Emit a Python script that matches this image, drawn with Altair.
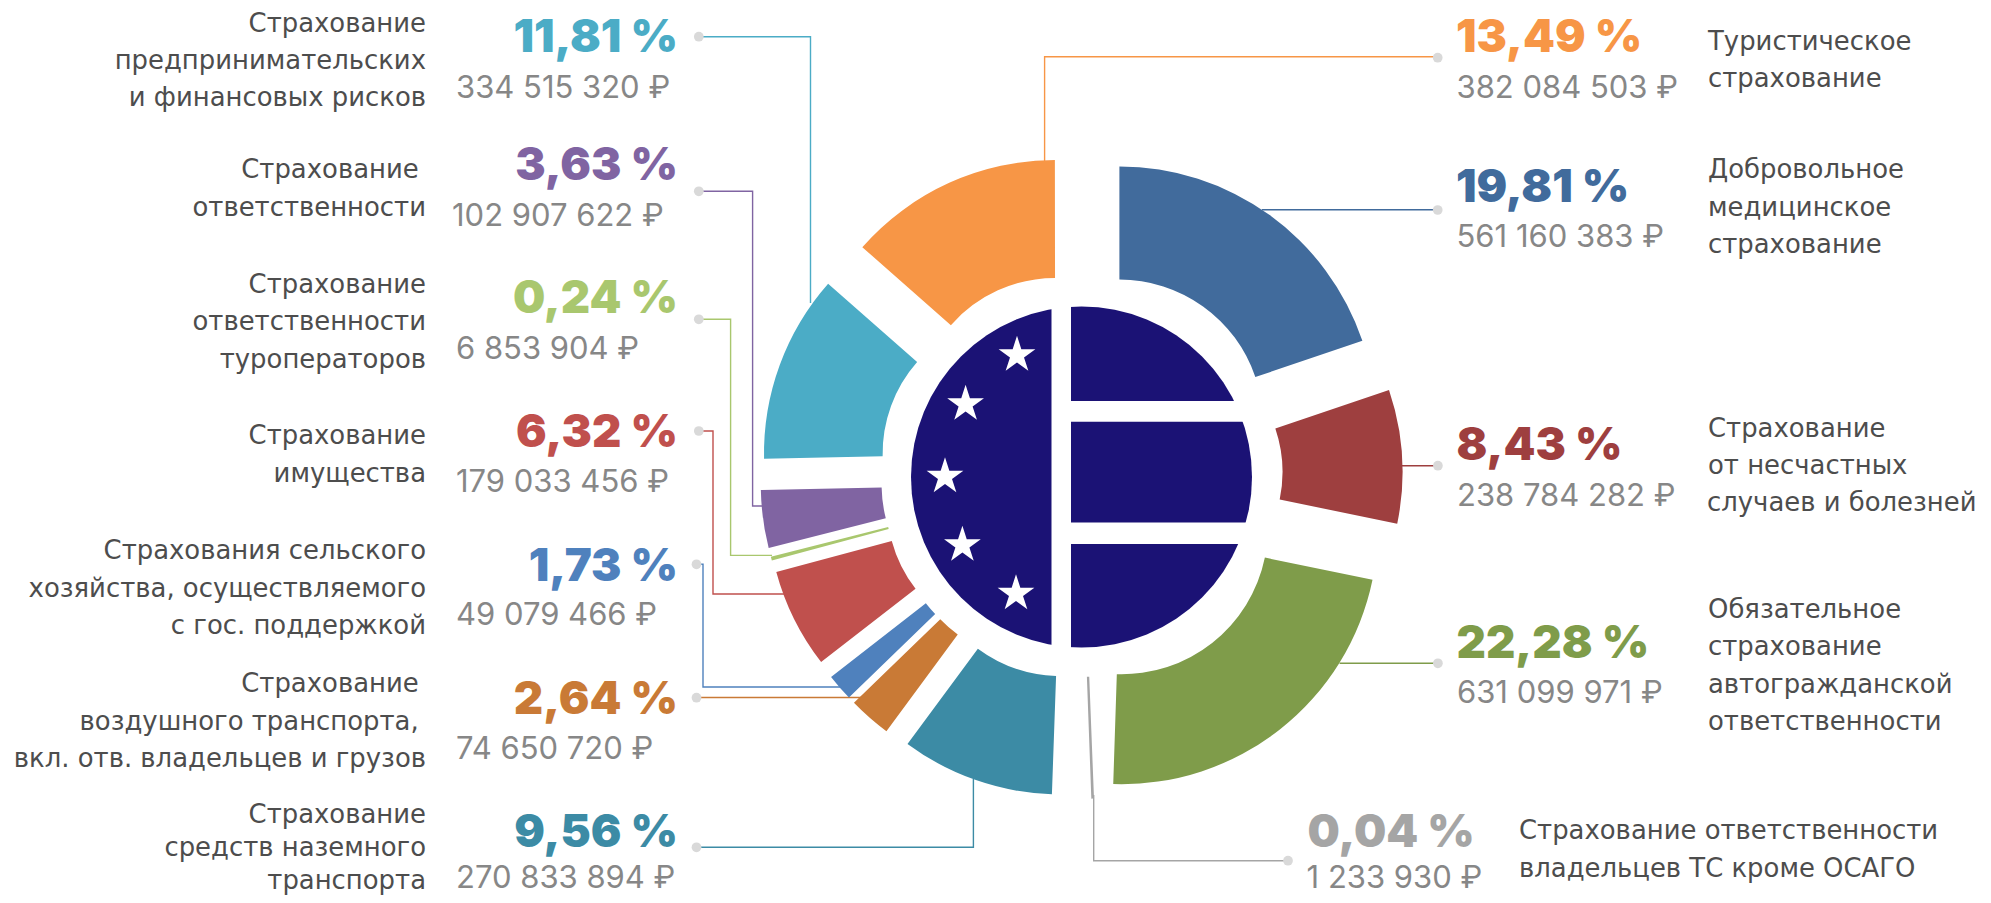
import math
import altair as alt
import pandas as pd

W, H = 1975, 887

# ---------- values ----------
shares = [19.81, 8.43, 22.28, 0.04, 9.56, 2.64, 1.73, 6.32, 0.24, 3.63, 11.81, 13.49]
pct_text = ["19,81 %", "8,43 %", "22,28 %", "0,04 %", "9,56 %", "2,64 %", "1,73 %", "6,32 %", "0,24 %", "3,63 %", "11,81 %", "13,49 %"]
amounts = ["561 160 383 ₽", "238 784 282 ₽", "631 099 971 ₽", "1 233 930 ₽", "270 833 894 ₽", "74 650 720 ₽", "49 079 466 ₽",
           "179 033 456 ₽", "6 853 904 ₽", "102 907 622 ₽", "334 515 320 ₽", "382 084 503 ₽"]
colors = ["#416B9C", "#9E3F3F", "#7F9C4A", "#A5A5A5", "#3C8BA5", "#C97A36", "#4F81BD", "#C0504D", "#A9C76E", "#8064A2", "#4BACC6", "#F79646"]

# ---------- layout of the exploded slices ----------
slice_cx = [1119.4, 1146.5, 1121.6, 1082.6, 1061.0, 1041.0, 1029.3, 1022.5, 1020.0, 1017.8, 1021.0, 1055.2]
slice_cy = [423.0, 472.0, 528.0, 531.8, 536.0, 521.7, 523.0, 505.7, 493.5, 484.8, 453.5, 417.0]
slice_r_in = [143.5, 136.0, 146.3, 146.0, 140.0, 140.2, 131.0, 135.4, 136.0, 136.2, 138.4, 139.0]
slice_r_out = [256.5, 256.0, 256.2, 266.0, 258.5, 260.3, 251.0, 255.0, 257.0, 257.0, 257.0, 257.0]
slice_tilt = [0, 0, 0, -1.14, 0, 0, 0, 0, 0, 0, 0, 0]
slice_sw = [0, 0, 0, 2, 0, 0, 0, 0, 0, 0, 0, 0]

starts, ends, run = [], [], 0.0
for s, t in zip(shares, slice_tilt):
    starts.append(run + t)
    ends.append(run + s + t)
    run += s
slices = pd.DataFrame(dict(start=starts, end=ends, cx=slice_cx, cy=slice_cy, r_in=slice_r_in,
                           r_out=slice_r_out, color=colors, sw=slice_sw))

# ---------- text ----------
left_labels = [
    ("Страхование", 426, 31.7), ("предпринимательских", 426, 69), ("и финансовых рисков", 426, 106),
    ("Страхование", 418.7, 177.7), ("ответственности", 426, 216),
    ("Страхование", 426, 292.7), ("ответственности", 426, 330), ("туроператоров", 426, 367.7),
    ("Страхование", 426, 444.3), ("имущества", 426, 482.3),
    ("Страхования сельского", 426, 559.3), ("хозяйства, осуществляемого", 426, 596.7), ("с гос. поддержкой", 426, 634),
    ("Страхование", 418.7, 692.3), ("воздушного транспорта,", 418.7, 730), ("вкл. отв. владельцев и грузов", 426, 767.3),
    ("Страхование", 426, 823), ("средств наземного", 426, 856), ("транспорта", 426, 888.5),
]
right_labels = [
    ("Туристическое", 1708, 50), ("страхование", 1708, 87.3),
    ("Добровольное", 1708, 178.3), ("медицинское", 1708, 215.7), ("страхование", 1708, 252.7),
    ("Страхование", 1708, 436.7), ("от несчастных", 1708, 474), ("случаев и болезней", 1707, 511.3),
    ("Обязательное", 1708, 617.7), ("страхование", 1708, 655), ("автогражданской", 1708, 692.7), ("ответственности", 1708, 730),
    ("Страхование ответственности", 1519, 839.3), ("владельцев ТС кроме ОСАГО", 1519, 876.7),
]
# index into the value lists, x, baseline
pct_left = [(10, 678, 51.7), (9, 678, 180), (8, 678, 313.3), (7, 678, 446.7), (6, 678, 580.7), (5, 678, 714), (4, 678, 847.3)]
pct_right = [(11, 1456, 52.3), (0, 1456, 201.7), (1, 1456.5, 459.6), (2, 1456.5, 657.7), (3, 1307.5, 847.3)]
amt_pos = [(10, 456, 97.7), (9, 452, 225.7), (8, 456, 359), (7, 456, 492.3), (6, 456, 625.3), (5, 456, 759), (4, 456, 887.5),
           (11, 1456.5, 97.7), (0, 1456.5, 247.3), (1, 1457, 505.7), (2, 1457, 703.3), (3, 1306.6, 887.5)]

# ---------- leaders and dots ----------
leaders = [
    (10, [(703, 36.7), (810.5, 36.7), (810.5, 303)]),
    (9, [(703, 191.3), (752.6, 191.3), (752.6, 506), (765, 506)]),
    (8, [(703, 319.3), (730.6, 319.3), (730.6, 555.4), (772, 555.4)]),
    (7, [(703, 431), (713, 431), (713, 594), (785, 594)]),
    (6, [(699, 564.3), (703, 564.3), (703, 687), (842, 687)]),
    (5, [(700, 697.5), (865, 697.5)]),
    (4, [(700, 847.3), (973.4, 847.3), (973.4, 779)]),
    (11, [(1437, 56.7), (1044.6, 56.7), (1044.6, 162)]),
    (0, [(1437, 209.8), (1261.8, 209.8)]),
    (1, [(1437, 465.7), (1401, 465.7)]),
    (2, [(1437, 663.3), (1339.6, 663.3)]),
    (3, [(1093.7, 795), (1093.7, 860.7), (1288, 860.7)]),
]
dots_x = [698.8, 698.8, 698.8, 698.8, 696.5, 696.5, 696.5, 1437.7, 1437.7, 1437.9, 1437.9, 1288]
dots_y = [36.7, 191.3, 319.3, 431, 564.3, 697.7, 847.3, 57.7, 210, 465.7, 663.3, 860.7]

# ---------- central disc ----------
disc = pd.DataFrame(dict(cx=[1081.5], cy=[477.0], start=[0.0], end=[100.0], r=[170.5]))
bands = pd.DataFrame(dict(x1=[1051.5, 1071, 1071], x2=[1071, 1262, 1262], y1=[290, 401, 522.4], y2=[665, 421.8, 544.1]))
stars = pd.DataFrame(dict(x=[1017, 965.6, 945, 962.4, 1016], y=[355.1, 404.1, 476.6, 545.1, 593.6]))
star_path = "M" + "L".join(
    f"{(1 if i % 2 == 0 else 0.382) * math.sin(i * math.pi / 5):.4f},{-(1 if i % 2 == 0 else 0.382) * math.cos(i * math.pi / 5):.4f}"
    for i in range(10)) + "Z"

X = alt.Scale(domain=[8, 8 + W], range=[0, W], zero=False, nice=False)
Y = alt.Scale(domain=[8, 8 + H], range=[0, H], zero=False, nice=False)
TH = alt.Scale(domain=[0, 100], range=[0, 2 * math.pi])


def xe(f="x"):
    return alt.X(f"{f}:Q", scale=X, axis=None)


def ye(f="y"):
    return alt.Y(f"{f}:Q", scale=Y, axis=None)


leader_rows = []
for k, (idx, pts) in enumerate(leaders):
    for o, (x, y) in enumerate(pts):
        leader_rows.append(dict(k=k, o=o, x=x, y=y, color=colors[idx]))

leader_layer = alt.Chart(pd.DataFrame(leader_rows)).mark_line(strokeWidth=1.4, interpolate="linear").encode(
    x=xe(), y=ye(), detail="k:N", order="o:Q", color=alt.Color("color:N", scale=None))

dot_layer = alt.Chart(pd.DataFrame(dict(x=dots_x, y=dots_y))).mark_point(
    filled=True, size=95, color="#D9D9D9", opacity=1, shape="circle").encode(x=xe(), y=ye())

slice_layer = alt.Chart(slices).mark_arc().encode(
    x=xe("cx"), y=ye("cy"),
    theta=alt.Theta("start:Q", scale=TH, stack=None), theta2=alt.Theta2("end:Q"),
    radius=alt.Radius("r_out:Q", scale=None), radius2=alt.Radius2("r_in:Q"),
    color=alt.Color("color:N", scale=None),
    stroke=alt.Stroke("color:N", scale=None),
    strokeWidth=alt.StrokeWidth("sw:Q", scale=None),
)

disc_layer = alt.Chart(disc).mark_arc(color="#1B1275").encode(
    x=xe("cx"), y=ye("cy"),
    theta=alt.Theta("start:Q", scale=TH, stack=None), theta2=alt.Theta2("end:Q"),
    radius=alt.Radius("r:Q", scale=None),
)

band_layer = alt.Chart(bands).mark_rect(color="white").encode(
    x=xe("x1"), x2="x2:Q", y=ye("y1"), y2="y2:Q")

star_layer = alt.Chart(stars).mark_point(
    shape=star_path, filled=True, color="white", opacity=1, size=1490, strokeWidth=0).encode(x=xe(), y=ye())


def text_layer(rows, align, size, weight, color=None, font="Inter"):
    df = pd.DataFrame(rows)
    kw = dict(align=align, baseline="alphabetic", font=font, fontSize=size, fontWeight=weight)
    if color:
        kw["color"] = color
    enc = dict(x=xe(), y=ye(), text="t:N")
    if not color:
        enc["color"] = alt.Color("color:N", scale=None)
    return alt.Chart(df).mark_text(**kw).encode(**enc)


LABEL_C, AMT_C = "#4D4D4D", "#878787"
LABEL_FONT, LABEL_SIZE = "DejaVu Sans", 25.9
layers = [
    leader_layer, dot_layer, slice_layer, disc_layer, band_layer, star_layer,
    text_layer([dict(t=t, x=x, y=y) for t, x, y in left_labels], "right", LABEL_SIZE, 400, LABEL_C, LABEL_FONT),
    text_layer([dict(t=t, x=x, y=y) for t, x, y in right_labels], "left", LABEL_SIZE, 400, LABEL_C, LABEL_FONT),
    text_layer([dict(t=pct_text[i], x=x, y=y, color=colors[i]) for i, x, y in pct_left], "right", 45.5, 900),
    text_layer([dict(t=pct_text[i], x=x, y=y, color=colors[i]) for i, x, y in pct_right], "left", 45.5, 900),
    text_layer([dict(t=amounts[i], x=x, y=y) for i, x, y in amt_pos], "left", 31, 400, AMT_C),
]

chart = alt.layer(*layers).properties(
    width=W, height=H, padding=0, autosize=alt.AutoSizeParams(type="none"), background="white"
).configure_view(stroke=None)

chart.save("out.html", embed_options={"renderer": "svg", "actions": False})
